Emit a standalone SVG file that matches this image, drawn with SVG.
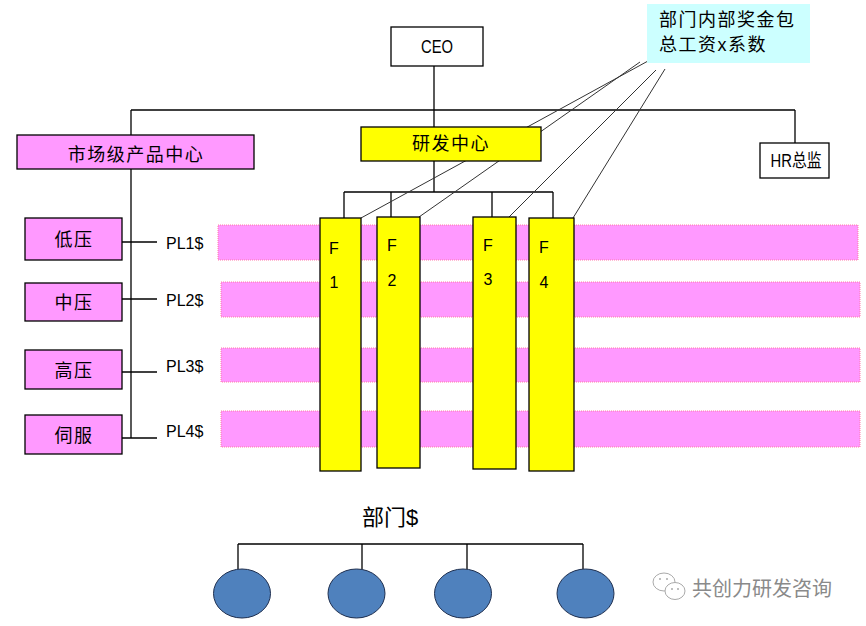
<svg xmlns="http://www.w3.org/2000/svg" width="866" height="626" viewBox="0 0 866 626">
<style>
text{font-family:"Liberation Sans","Noto Sans CJK SC",sans-serif;fill:#000;dominant-baseline:central}
.box{stroke:#000;stroke-width:1.3}
.pink{fill:#FF99FF}
.yel{fill:#FFFF00}
.wht{fill:#FFFFFF}
.stripe{fill:#FF99FF;stroke:#FF7AA8;stroke-width:1;stroke-dasharray:1 1}
.cn{font-size:18px;letter-spacing:1.5px}
.pl{font-size:16px}
.c{text-anchor:middle}
.ln{stroke:#000;stroke-width:1.3;fill:none}
.dg{stroke:#333;stroke-width:1;fill:none}
.dot{fill:#4F81BD;stroke:#1F2F4F;stroke-width:1}
</style>
<g id="stripes">
<rect class="stripe" x="218" y="225" width="640" height="35"/>
<rect class="stripe" x="221" y="282" width="639" height="35"/>
<rect class="stripe" x="221" y="348" width="639" height="34"/>
<rect class="stripe" x="221" y="411" width="639" height="36"/>
</g>
<g id="connectors">
<line class="ln" x1="434" y1="66" x2="434" y2="127"/>
<line class="ln" x1="131" y1="110" x2="795" y2="110"/>
<line class="ln" x1="795" y1="110" x2="795" y2="143"/>
<line class="ln" x1="131" y1="110" x2="131" y2="438"/>
<line class="ln" x1="122" y1="242" x2="157" y2="242"/>
<line class="ln" x1="122" y1="299" x2="157" y2="299"/>
<line class="ln" x1="122" y1="372" x2="157" y2="372"/>
<line class="ln" x1="122" y1="438" x2="157" y2="438"/>
<line class="ln" x1="434" y1="161" x2="434" y2="192"/>
<line class="ln" x1="344" y1="192" x2="553" y2="192"/>
<line class="ln" x1="344" y1="192" x2="344" y2="218"/>
<line class="ln" x1="391" y1="192" x2="391" y2="217"/>
<line class="ln" x1="492" y1="192" x2="492" y2="217"/>
<line class="ln" x1="553" y1="192" x2="553" y2="218"/>
<line class="dg" x1="648" y1="61" x2="361" y2="218"/>
<line class="dg" x1="640" y1="62" x2="419" y2="217"/>
<line class="dg" x1="656" y1="70" x2="509" y2="217"/>
<line class="dg" x1="665" y1="69" x2="573" y2="218"/>
<line class="ln" x1="238" y1="544" x2="583" y2="544"/>
<line class="ln" x1="238" y1="544" x2="238" y2="569"/>
<line class="ln" x1="362" y1="544" x2="362" y2="569"/>
<line class="ln" x1="467" y1="544" x2="467" y2="569"/>
<line class="ln" x1="583" y1="544" x2="583" y2="569"/>
</g>
<g id="ceo">
<rect class="box wht" x="391" y="27" width="92" height="39"/>
<text x="437" y="46" class="c" font-size="19" textLength="32" lengthAdjust="spacingAndGlyphs">CEO</text>
</g>
<g id="note">
<rect x="647" y="4" width="163" height="59" fill="#CCFFFF"/>
<text x="659" y="20" class="cn">部门内部奖金包</text>
<text x="659" y="45" class="cn">总工资x系数</text>
</g>
<g id="market">
<rect class="box pink" x="17" y="135" width="237" height="34"/>
<text x="136" y="155" class="cn c">市场级产品中心</text>
</g>
<g id="rd">
<rect class="box yel" x="361" y="127" width="180" height="34"/>
<text x="451" y="144" class="cn c">研发中心</text>
</g>
<g id="hr">
<rect class="box wht" x="760" y="143" width="69" height="35"/>
<text x="796" y="161" class="c" font-size="18" textLength="51" lengthAdjust="spacingAndGlyphs">HR总监</text>
</g>
<g id="lowv">
<rect class="box pink" x="25" y="218" width="97" height="42"/>
<text x="74" y="240" class="cn c">低压</text>
</g>
<g id="midv">
<rect class="box pink" x="25" y="283" width="97" height="38"/>
<text x="74" y="303" class="cn c">中压</text>
</g>
<g id="highv">
<rect class="box pink" x="25" y="350" width="97" height="39"/>
<text x="74" y="371" class="cn c">高压</text>
</g>
<g id="servo">
<rect class="box pink" x="25" y="415" width="97" height="39"/>
<text x="74" y="436" class="cn c">伺服</text>
</g>
<g id="pl">
<text x="166" y="243" class="pl">PL1$</text>
<text x="166" y="300" class="pl">PL2$</text>
<text x="166" y="366" class="pl">PL3$</text>
<text x="166" y="431" class="pl">PL4$</text>
</g>
<g id="f1">
<rect class="box yel" x="320" y="218" width="41" height="253"/>
<text x="334" y="248" class="pl c">F</text>
<text x="334" y="282" class="pl c">1</text>
</g>
<g id="f2">
<rect class="box yel" x="377" y="217" width="43" height="251"/>
<text x="392" y="245" class="pl c">F</text>
<text x="392" y="280" class="pl c">2</text>
</g>
<g id="f3">
<rect class="box yel" x="473" y="217" width="43" height="252"/>
<text x="488" y="245" class="pl c">F</text>
<text x="488" y="279" class="pl c">3</text>
</g>
<g id="f4">
<rect class="box yel" x="529" y="218" width="45" height="253"/>
<text x="544" y="247" class="pl c">F</text>
<text x="544" y="282" class="pl c">4</text>
</g>
<g id="dept">
<text x="390" y="517" class="c" font-size="22">部门$</text>
</g>
<g id="d1"><ellipse class="dot" cx="242" cy="593.5" rx="28.5" ry="24.5"/></g>
<g id="d2"><ellipse class="dot" cx="356.5" cy="593.5" rx="28.5" ry="24.5"/></g>
<g id="d3"><ellipse class="dot" cx="463" cy="593.5" rx="28.5" ry="24.5"/></g>
<g id="d4"><ellipse class="dot" cx="585.5" cy="593.5" rx="28.5" ry="24.5"/></g>
<g id="watermark">
<ellipse cx="664" cy="582" rx="11" ry="9" fill="#fff" stroke="#aaa" stroke-width="1"/>
<ellipse cx="675" cy="591" rx="10" ry="8.5" fill="#fff" stroke="#aaa" stroke-width="1"/>
<circle cx="660" cy="579" r="1" fill="#aaa"/><circle cx="667" cy="579" r="1" fill="#aaa"/>
<circle cx="672" cy="589" r="1" fill="#aaa"/><circle cx="678" cy="589" r="1" fill="#aaa"/>
<text x="692" y="589" font-size="20" style="fill:#8a8a8a">共创力研发咨询</text>
</g>
</svg>
